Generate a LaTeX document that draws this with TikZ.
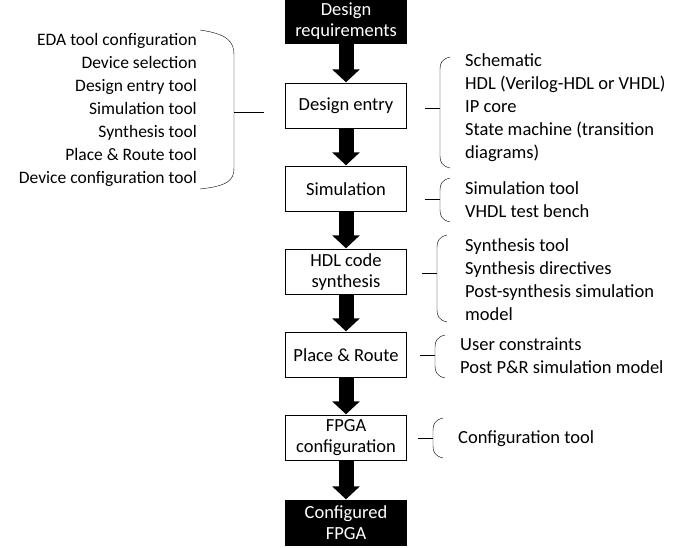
\documentclass[tikz,border=0pt]{standalone}
\usepackage{fontspec}
\setmainfont{Carlito}
\usetikzlibrary{arrows.meta,positioning}

\begin{document}
\begin{tikzpicture}[x=1pt,y=-1pt,font=\fontsize{18.5}{23}\selectfont]
\tikzset{box/.style={draw,thin,minimum width=121pt,minimum height=45pt,align=center,inner sep=1pt,font=\fontsize{18.5}{21}\selectfont},
  dark/.style={box,fill=black,text=white},
  flow/.style={line width=15pt,-{Triangle[width=27pt,length=13pt]},shorten >=1pt},
  item/.style={align=left,anchor=west,inner sep=0pt}}
\useasboundingbox (0,0) rectangle (674,547);

% main flow
\node[dark] (req) at (346,21) {Design\\requirements};
\node[box] (entry) at (346,106) {Design entry};
\node[box] (sim) at (346,189) {Simulation};
\node[box] (syn) at (346,272) {HDL code\\synthesis};
\node[box] (pr) at (346,355) {Place \& Route};
\node[box] (conf) at (346,438) {FPGA\\configuration};
\node[dark] (done) at (346,523) {Configured\\FPGA};
\foreach \a/\b in {req/entry,entry/sim,sim/syn,syn/pr,pr/conf,conf/done}
  \draw[flow] (\a) -- (\b);

% tools on the left
\node[align=right,anchor=east,inner sep=0pt,font=\fontsize{17.5}{23}\selectfont] (tools) at (197,110) {EDA tool configuration\\Device selection\\Design entry tool\\Simulation tool\\Synthesis tool\\Place \& Route tool\\Device configuration tool};
\draw (200,30) .. controls (228,34) and (234,42) .. (234,55) -- (234,168) .. controls (234,180) and (228,186) .. (200,189);
\coordinate (lt) at (234,112);
\draw (lt) -- ++(30,0);

% notes on the right
\node[item] (n1) at (465,108) {Schematic\\HDL (Verilog-HDL or VHDL)\\IP core\\State machine (transition\\diagrams)};
\node[item] (n2) at (465,200) {Simulation tool\\VHDL test bench};
\node[item] (n3) at (465,280) {Synthesis tool\\Synthesis directives\\Post-synthesis simulation\\model};
\node[item] (n4) at (460,356) {User constraints\\Post P\&R simulation model};
\node[item] (n5) at (458,439) {Configuration tool};
\foreach \t/\b/\m/\x in {57/168/108/450,178/222/199/450,235/322/273/447,335/378/355/445,418/458/438/443}{
  \draw (\x,\t) .. controls (\x-8,\t+2) and (\x-10,\t+6) .. (\x-10,\t+12) -- (\x-10,\b-12) .. controls (\x-10,\b-6) and (\x-8,\b-2) .. (\x,\b);
  \draw (\x-10,\m) -- ++(-15,0);}
\end{tikzpicture}
\end{document}
